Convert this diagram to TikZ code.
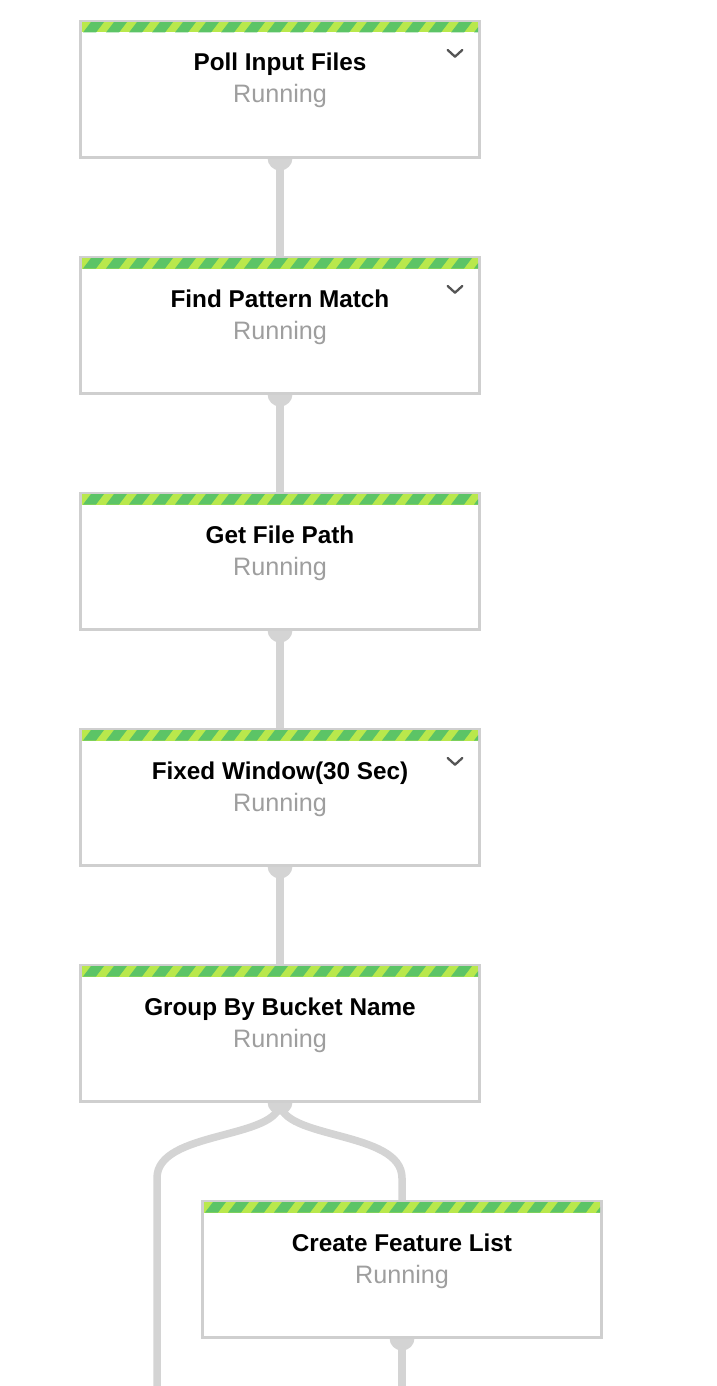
\documentclass[tikz,border=0pt]{standalone}
\usepackage{fontspec}
\setmainfont{Liberation Sans}
\usetikzlibrary{backgrounds}
\definecolor{boxline}{HTML}{CFCFCF}
\definecolor{conncol}{HTML}{D4D4D4}
\definecolor{stripeA}{HTML}{B9E84C}
\definecolor{stripeB}{HTML}{5CC466}
\definecolor{subgray}{HTML}{9E9E9E}
\definecolor{chev}{HTML}{555555}
\tikzset{
  stagebox/.style={draw=boxline, line width=2pt, fill=white, minimum width=398pt, minimum height=135pt, inner sep=0pt},
  conn/.style={draw=conncol, line width=7.5pt},
  titletext/.style={font=\bfseries\fontsize{24.3}{28}\selectfont, anchor=base, inner sep=0pt},
  subtext/.style={font=\fontsize{25.2}{28}\selectfont, text=subgray, anchor=base, inner sep=0pt},
  chevline/.style={draw=chev, line width=2.3pt, line cap=round, line join=round}
}
\newcommand{\stagenode}[6]{%
  % #1 name, #2 center x, #3 top y, #4 title, #5 chevron (1/0)
  \node[stagebox] (#1) at (#2,#3+67.5) {};
  \begin{scope}
    \clip (#2-198,#3) rectangle (#2+198,#3+10.5);
    \fill[stripeA] (#2-198,#3) rectangle (#2+198,#3+10.5);
    \foreach \k in {-1,...,18} {
      \fill[stripeB] (#2-197+\k*23,#3+10.5) -- ++(13,0) -- ++(8,-10.5) -- ++(-13,0) -- cycle;
    }
  \end{scope}
  \draw[boxline, line width=2pt] (#1.north west) rectangle (#1.south east);
  \node[titletext] (#1t) at (#2,#3+49) {#4};
  \node[subtext] (#1s) at (#2,#3+81) {Running};
  \ifnum#5=1
    \draw[chevline] (#2+167.7,#3+28) -- (#2+175,#3+34.7) -- (#2+182.3,#3+28);
  \fi
}
\begin{document}
\begin{tikzpicture}[x=1pt,y=-1pt]
\useasboundingbox (0,0) rectangle (716,1386);
\stagenode{b1}{280}{22}{Poll Input Files}{1}{}
\stagenode{b2}{280}{258}{Find Pattern Match}{1}{}
\stagenode{b3}{280}{494}{Get File Path}{0}{}
\stagenode{b4}{280}{730}{Fixed Window(30 Sec)}{1}{}
\stagenode{b5}{280}{966}{Group By Bucket Name}{0}{}
\stagenode{b6}{402}{1202}{Create Feature List}{0}{}
\coordinate (lend) at (157,1386);
\coordinate (rend) at (402,1386);
\begin{pgfonlayer}{background}
  \fill[white] (0,0) rectangle (716,1386);
  \foreach \n in {b1,b2,b3,b4,b5,b6} {
    \fill[conncol] (\n.south) circle (12.5pt);
  }
  \draw[conn] (b1.south) -- (b2.north);
  \draw[conn] (b2.south) -- (b3.north);
  \draw[conn] (b3.south) -- (b4.north);
  \draw[conn] (b4.south) -- (b5.north);
  \draw[conn] (b5.south) .. controls (280,1140) and (157,1130) .. (157,1178) -- (lend);
  \draw[conn] (b5.south) .. controls (280,1140) and (402,1130) .. (402,1178) -- (b6.north);
  \draw[conn] (b6.south) -- (rend);
\end{pgfonlayer}
\end{tikzpicture}
\end{document}
